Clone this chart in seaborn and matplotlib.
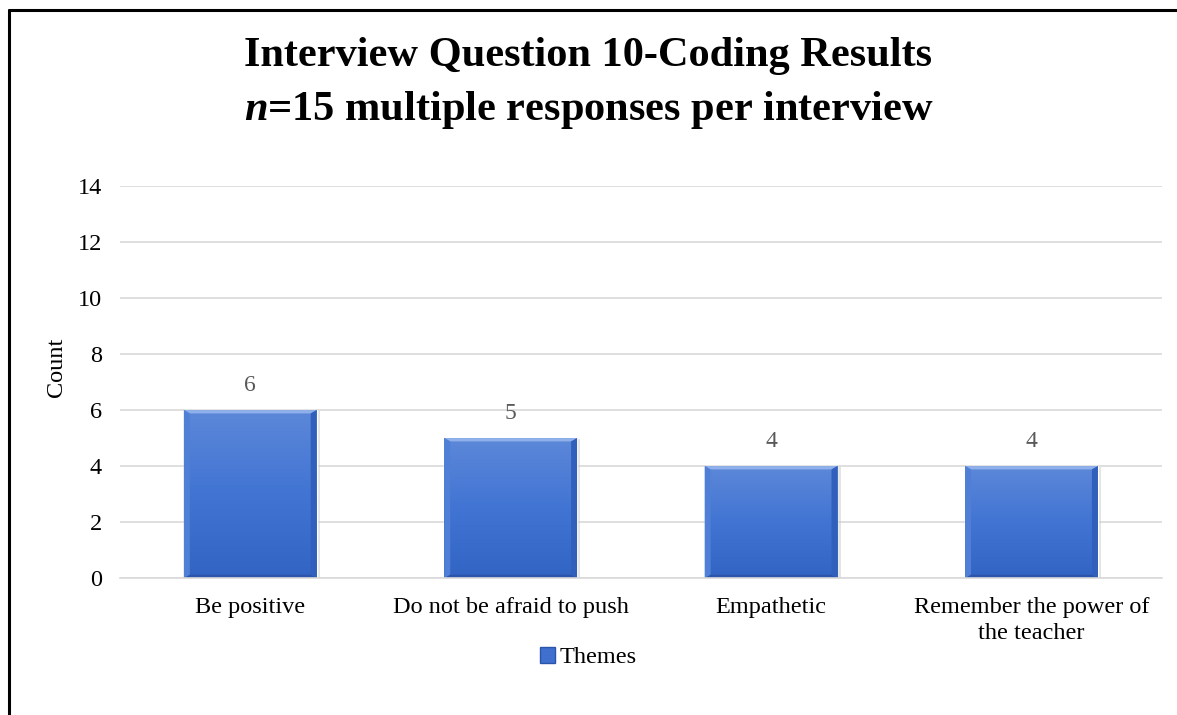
import numpy as np
import pandas as pd
import matplotlib
matplotlib.use("Agg")
import matplotlib.pyplot as plt
import seaborn as sns
from matplotlib.lines import Line2D
from matplotlib.patches import Rectangle, Polygon

categories = ["Be positive", "Do not be afraid to push", "Empathetic",
              "Remember the power of\nthe teacher"]
counts = [6, 5, 4, 4]
y_ticks = [0, 2, 4, 6, 8, 10, 12, 14]
series_name = "Themes"

df = pd.DataFrame({"Theme": categories, "Count": counts})

sns.set_theme(style="white")
plt.rcParams["font.family"] = ["Liberation Serif", "DejaVu Serif"]
plt.rcParams["text.color"] = "black"
plt.rcParams["mathtext.fontset"] = "custom"
plt.rcParams["mathtext.bfit"] = "Liberation Serif:bold:italic"
plt.rcParams["mathtext.it"] = "Liberation Serif:italic"
plt.rcParams["mathtext.bf"] = "Liberation Serif:bold"
plt.rcParams["mathtext.rm"] = "Liberation Serif"

fig = plt.figure(figsize=(11.77, 7.15), dpi=100)
ax = fig.add_axes([0.102, 0.1916, 0.885, 0.548])

base = "#3f6fcf"
sns.barplot(data=df, x="Theme", y="Count", color=base, width=0.51,
            saturation=1, ax=ax, zorder=2)

# gradient fill with a bevelled rim for each bar
grad = np.linspace(0, 1, 256).reshape(-1, 1)
cmap = matplotlib.colors.LinearSegmentedColormap.from_list(
    "bar", ["#5d88d9", "#4174d3", "#3264c4"])
for p in list(ax.patches):
    x0, w, h = p.get_x(), p.get_width(), p.get_height()
    # soft shadow
    ax.add_patch(Rectangle((x0 + 0.012, 0), w, h - 0.05, color="#c8c8c8",
                           alpha=0.5, zorder=1.5, lw=0))
    im = ax.imshow(grad, extent=(x0, x0 + w, 0, h), aspect="auto",
                   cmap=cmap, origin="upper", zorder=2.1)
    im.set_clip_path(p)
    bx = w * 0.045
    by = 0.12
    # top bevel
    ax.add_patch(Polygon([(x0, h), (x0 + w, h), (x0 + w - bx, h - by), (x0 + bx, h - by)],
                         closed=True, color="#8fb0ea", lw=0, zorder=2.2))
    # bottom bevel
    ax.add_patch(Polygon([(x0, 0), (x0 + w, 0), (x0 + w - bx, by), (x0 + bx, by)],
                         closed=True, color="#2a55ab", lw=0, zorder=2.2))
    # side bevels
    ax.add_patch(Polygon([(x0, 0), (x0, h), (x0 + bx, h - by), (x0 + bx, by)],
                         closed=True, color="#5080d6", lw=0, zorder=2.2))
    ax.add_patch(Polygon([(x0 + w, 0), (x0 + w, h), (x0 + w - bx, h - by), (x0 + w - bx, by)],
                         closed=True, color="#3060bb", lw=0, zorder=2.2))

for i, v in enumerate(counts):
    ax.text(i, v + 0.5, str(v), ha="center", va="bottom",
            fontsize=17, color="#595959")

ax.set_ylim(0, 14)
ax.set_xlim(-0.5, len(categories) - 0.5)
ax.set_yticks(y_ticks)
ax.yaxis.grid(True, color="#d9d9d9", lw=1.2, zorder=0)
ax.set_axisbelow(True)
for s in ["top", "right", "left"]:
    ax.spines[s].set_visible(False)
ax.spines["bottom"].set_color("#d9d9d9")
ax.spines["bottom"].set_linewidth(1.2)
ax.tick_params(axis="both", length=0, labelsize=17.5, labelcolor="black")
ax.tick_params(axis="x", pad=14)
ax.tick_params(axis="y", pad=13)
for lbl in ax.get_xticklabels():
    lbl.set_linespacing(1.3)
ax.set_xlabel("")
ax.set_ylabel("Count", fontsize=17.5, color="black", labelpad=8, y=0.538)

fig.text(0.5, 0.922, "Interview Question 10-Coding Results",
         ha="center", va="center", fontsize=30.5, fontweight="bold")
fig.text(0.5, 0.846, r"$\mathbfit{n}$=15 multiple responses per interview",
         ha="center", va="center", fontsize=30.5, fontweight="bold")

handle = Rectangle((0, 0), 1, 1, facecolor="#3f6fcf", edgecolor="#2a55ab")
fig.legend([handle], [series_name], loc="center", bbox_to_anchor=(0.5, 0.08),
           frameon=False, fontsize=17.5, handlelength=0.6, handleheight=0.6,
           handletextpad=0.2)

# chart frame
fig.add_artist(Line2D([0.008, 0.008], [0.0, 0.986], color="black", lw=2.2,
                      transform=fig.transFigure))
fig.add_artist(Line2D([0.008, 1.0], [0.986, 0.986], color="black", lw=2.2,
                      transform=fig.transFigure))

fig.savefig("out.png", dpi=100)
